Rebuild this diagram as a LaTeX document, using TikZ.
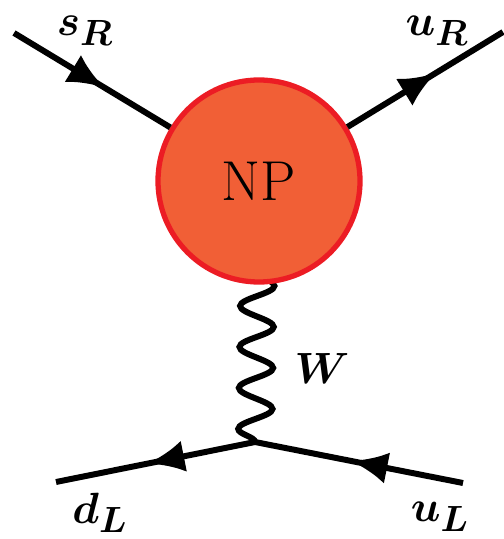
\documentclass[tikz,border=0pt]{standalone}
\usepackage{bm}
\usetikzlibrary{arrows.meta,decorations.markings,decorations.pathmorphing,backgrounds}
\definecolor{blob}{HTML}{F15F36}
\definecolor{blobline}{HTML}{EC1C24}
\begin{document}
\begin{tikzpicture}[line width=3.4pt,
  lbl/.style={font=\fontsize{30}{34}\selectfont\boldmath,inner sep=0pt},
  ferm/.style={postaction={decorate},decoration={markings,
    mark=at position #1 with {\arrow{Latex[length=21pt,width=18pt]}}}},
  bos/.style={line width=3.4pt,decorate,decoration={snake,amplitude=0.34cm,segment length=0.82cm}}]
\useasboundingbox (0,0) rectangle (10.06,-10.78);
\node[circle,draw=blobline,fill=blob,line width=3pt,minimum size=4.04cm,inner sep=0pt,
  font=\fontsize{32}{36}\selectfont] (np) at (5.18,-3.62) {NP};
\coordinate (sR) at (0.28,-0.66);
\coordinate (uR) at (10.06,-0.64);
\coordinate (v) at (5.10,-8.84);
\coordinate (dL) at (1.12,-9.64);
\coordinate (uL) at (9.26,-9.66);
\node[lbl] (tsR) at (1.70,-0.62) {$s_R$};
\node[lbl] (tuR) at (8.74,-0.62) {$u_R$};
\node[lbl] (tW) at (6.44,-7.36) {$W$};
\node[lbl] (tdL) at (2.00,-10.26) {$d_L$};
\node[lbl] (tuL) at (8.80,-10.34) {$u_L$};
\draw[ferm=0.58] (sR) -- (np);
\draw[ferm=0.57] (np) -- (uR);
\draw[ferm=0.54] (v) -- (dL);
\draw[ferm=0.54] (uL) -- (v);
\begin{scope}[on background layer]
\draw[bos] (v) -- (np.center);
\end{scope}
\end{tikzpicture}
\end{document}
